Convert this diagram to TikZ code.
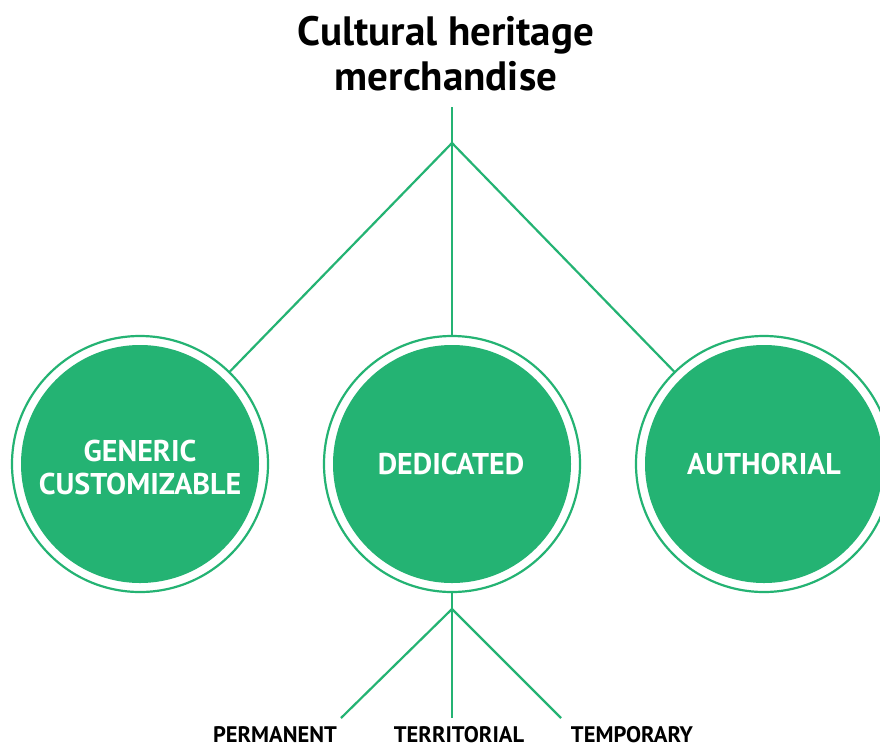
\documentclass[tikz,border=0pt]{standalone}
\usepackage{fontspec}
\setmainfont{PT Sans}
\definecolor{hgreen}{RGB}{36,179,115}
\begin{document}
\begin{tikzpicture}[x=1pt,y=-1pt,
 ring/.style={circle,draw=hgreen,line width=2.2pt,minimum size=256pt,inner sep=0pt},
 disc/.style={circle,fill=hgreen,minimum size=238pt,inner sep=0pt},
 conn/.style={draw=hgreen,line width=2.2pt},
 ctext/.style={text=white,font=\bfseries\fontsize{30}{30}\selectfont,anchor=base,inner sep=0pt},
 ttext/.style={font=\bfseries\fontsize{41}{41}\selectfont,anchor=base,inner sep=0pt},
 ltext/.style={font=\bfseries\fontsize{22.5}{22.5}\selectfont,anchor=base,inner sep=0pt}]
\useasboundingbox (0,0) rectangle (880,747);
\clip (0,0) rectangle (880,747);
\fill[white] (0,0) rectangle (880,747);
% title
\node[ttext] (title1) at (446,45) {Cultural heritage};
\node[ttext] (title2) at (446,90) {merchandise};
% circles
\node[ring] (Lring) at (140,464) {};
\node[ring] (Mring) at (452,464) {};
\node[ring] (Rring) at (764,464) {};
\node[disc] (Ldisc) at (140,464) {};
\node[disc] (Mdisc) at (452,464) {};
\node[disc] (Rdisc) at (764,464) {};
\node[ctext] (gen) at (140,461.5) {GENERIC};
\node[ctext] (cust) at (140,494.5) {CUSTOMIZABLE};
\node[ctext] (ded) at (451,474.5) {DEDICATED};
\node[ctext] (auth) at (764,474.5) {AUTHORIAL};
% top connectors
\coordinate (top) at (452,107);
\coordinate (J1) at (452,143);
\draw[conn] (top) -- (J1);
\draw[conn] (J1) -- (Lring);
\draw[conn] (J1) -- (Mring);
\draw[conn] (J1) -- (Rring);
% bottom connectors
\coordinate (J2) at (452,609);
\coordinate (p1) at (341,718);
\coordinate (p2) at (452,718);
\coordinate (p3) at (561,718);
\draw[conn] (Mring.south) -- (J2);
\draw[conn] (J2) -- (p1);
\draw[conn] (J2) -- (p2);
\draw[conn] (J2) -- (p3);
% labels
\node[ltext] (perm) at (275,742) {PERMANENT};
\node[ltext] (terr) at (459,742) {TERRITORIAL};
\node[ltext] (temp) at (632,742) {TEMPORARY};
\end{tikzpicture}
\end{document}
